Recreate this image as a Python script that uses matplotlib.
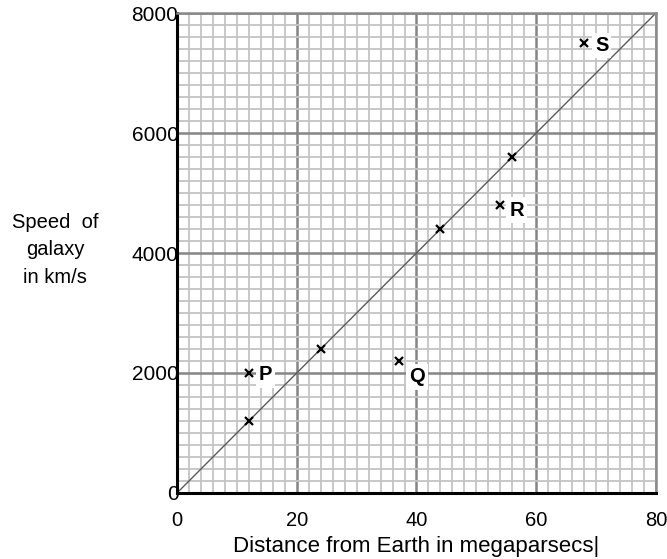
import matplotlib
matplotlib.use('Agg')
import matplotlib.pyplot as plt
from matplotlib.ticker import MultipleLocator
from matplotlib.transforms import ScaledTranslation

plt.rcParams['font.family'] = ['Liberation Sans', 'DejaVu Sans']

# galaxy data
distance = [12, 12, 24, 37, 44, 54, 56, 68]
speed = [1200, 2000, 2400, 2200, 4400, 4800, 5600, 7500]

# labelled galaxies
labels = ['P', 'Q', 'R', 'S']
label_x = [12, 37, 54, 68]
label_y = [2000, 2200, 4800, 7500]

line_x = [0, 80]
line_y = [0, 8000]

fig = plt.figure(figsize=(6.67, 5.59), dpi=100)
ax = fig.add_axes([0.2654, 0.1181, 0.718, 0.8586])

ax.set_xlim(0, 80)
ax.set_ylim(0, 8000)
ax.xaxis.set_major_locator(MultipleLocator(20))
ax.yaxis.set_major_locator(MultipleLocator(2000))
ax.xaxis.set_minor_locator(MultipleLocator(2))
ax.yaxis.set_minor_locator(MultipleLocator(200))

ax.grid(which='minor', color='#c4c4c4', linewidth=1.3, zorder=0)
ax.grid(which='major', color='#858585', linewidth=1.8, zorder=0)
ax.set_axisbelow(True)

for side in ['top', 'right']:
    ax.spines[side].set_color('#8a8a8a')
    ax.spines[side].set_linewidth(1.8)
for side in ['left', 'bottom']:
    ax.spines[side].set_color('black')
    ax.spines[side].set_linewidth(2.2)

ax.tick_params(which='both', length=0)
ax.tick_params(axis='x', pad=13, labelsize=14.5)
ax.tick_params(axis='y', pad=-1, labelsize=15)

ax.plot(line_x, line_y, color='#5a5a5a', linewidth=1.0, zorder=2)
ax.plot(distance, speed, linestyle='none', marker='x', color='black',
        markersize=5.5, markeredgewidth=1.6, zorder=3)

# text offsets in pixels from each marker
offsets = {'P': (10, -2), 'Q': (11, -16), 'R': (9, -5), 'S': (11, -2)}
for lab, x, y in zip(labels, label_x, label_y):
    dx, dy = offsets[lab]
    ax.annotate(lab, (x, y), xytext=(dx * 0.72, dy * 0.72),
                textcoords='offset points',
                fontsize=14.5, fontweight='bold', va='center', ha='left',
                bbox=dict(boxstyle='square,pad=0.15', fc='white', ec='none'),
                zorder=4)

ax.set_xlabel('Distance from Earth in megaparsecs|', fontsize=16, labelpad=4)
fig.text(0.083, 0.553, 'Speed  of\ngalaxy\nin km/s', fontsize=14.5,
         ha='center', va='center', linespacing=1.55)

fig.canvas.draw()
# keep the last x tick label inside the picture
last = ax.get_xticklabels()[-1]
last.set_transform(last.get_transform() +
                   ScaledTranslation(-3 / 100, 0, fig.dpi_scale_trans))

fig.savefig('out.png', dpi=100)
